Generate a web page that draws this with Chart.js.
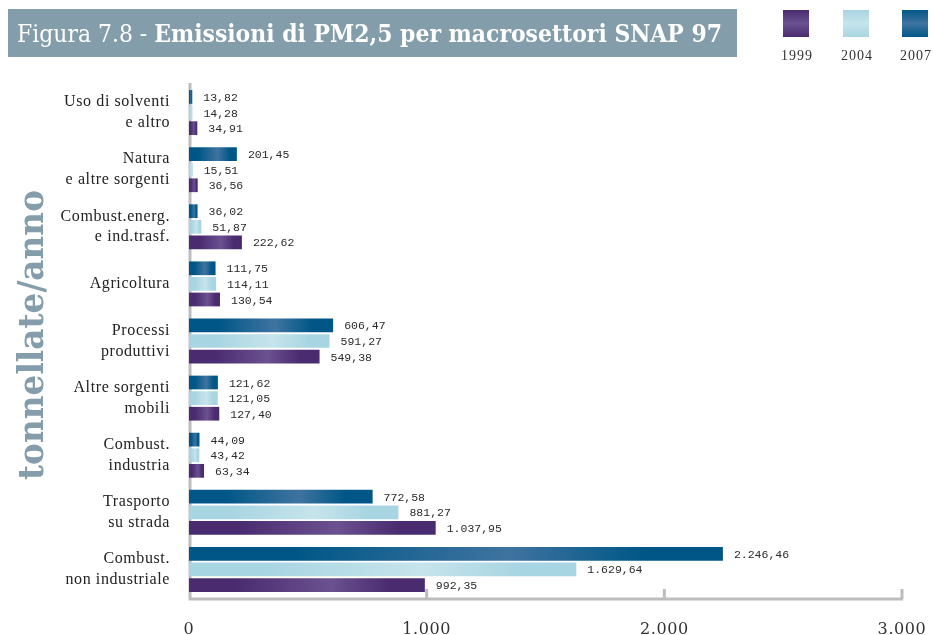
<!DOCTYPE html>
<html>
<head>
<meta charset="utf-8">
<script src="https://cdn.jsdelivr.net/npm/chart.js@4"></script>
<style>
  body { margin: 0; background: #fff; }
  canvas { display: block; }
</style>
</head>
<body>
<canvas id="chart" width="933" height="635"></canvas>
<script>
// categorie dall'alto verso il basso
const categories = [
    ['Uso di solventi', 'e altro'],
    ['Natura', 'e altre sorgenti'],
    ['Combust.energ.', 'e ind.trasf.'],
    'Agricoltura',
    ['Processi', 'produttivi'],
    ['Altre sorgenti', 'mobili'],
    ['Combust.', 'industria'],
    ['Trasporto', 'su strada'],
    ['Combust.', 'non industriale']
];
const values2007 = [13.82, 201.45, 36.02, 111.75, 606.47, 121.62, 44.09, 772.58, 2246.46];
const values2004 = [14.28, 15.51, 51.87, 114.11, 591.27, 121.05, 43.42, 881.27, 1629.64];
const values1999 = [34.91, 36.56, 222.62, 130.54, 549.38, 127.40, 63.34, 1037.95, 992.35];
const legendYears = ['1999', '2004', '2007'];
const xTicks = [0, 1000, 2000, 3000];

const titleLight = 'Figura 7.8 - ';
const titleBold = 'Emissioni di PM2,5 per macrosettori SNAP 97';
const axisTitle = 'tonnellate/anno';

// colori: [scuro, chiaro]
const colors = {
    '2007': ['#005787', '#3f73a0'],
    '2004': ['#a8d5e2', '#c6e4ec'],
    '1999': ['#4a2b70', '#6b5190']
};

function formatIt(v, dec) {
    const parts = v.toFixed(dec).split('.');
    parts[0] = parts[0].replace(/\B(?=(\d{3})+(?!\d))/g, '.');
    return parts.join(',');
}

function barGradient(context, year) {
    const chart = context.chart;
    const c = colors[year];
    if (!chart.chartArea || !chart.scales.x) return c[0];
    const x0 = chart.scales.x.getPixelForValue(0);
    const x1 = chart.scales.x.getPixelForValue(context.raw || 0);
    if (x1 - x0 < 2) return c[0];
    const g = chart.ctx.createLinearGradient(x0, 0, x1, 0);
    g.addColorStop(0, c[0]);
    g.addColorStop(0.2, c[0]);
    g.addColorStop(0.6, c[1]);
    g.addColorStop(0.85, c[0]);
    g.addColorStop(1, c[0]);
    return g;
}

function makeDataset(year, data) {
    return {
        label: year,
        data: data,
        backgroundColor: ctx => barGradient(ctx, year),
        borderWidth: 0,
        categoryPercentage: 0.82,
        barPercentage: 0.88
    };
}

// assi, titolo, legenda ed etichette dei valori
const decorPlugin = {
    id: 'decor',
    beforeDraw(chart) {
        // spaziatura delle lettere per le etichette degli assi
        chart.ctx.letterSpacing = '0.6px';
    },
    beforeDatasetsDraw(chart) {
        const ctx = chart.ctx;
        const area = chart.chartArea;
        const xs = chart.scales.x;
        ctx.save();
        ctx.strokeStyle = '#bdbdbd';
        ctx.lineWidth = 3;
        ctx.beginPath();
        ctx.moveTo(area.left + 1, area.top - 1);
        ctx.lineTo(area.left + 1, area.bottom + 1);
        ctx.lineTo(xs.getPixelForValue(3000) + 1, area.bottom + 1);
        ctx.stroke();
        for (let i = 1; i < xTicks.length; i++) {
            const x = xs.getPixelForValue(xTicks[i]);
            ctx.beginPath();
            ctx.moveTo(x, area.bottom + 1);
            ctx.lineTo(x, area.bottom - 9);
            ctx.stroke();
        }
        ctx.restore();
    },
    afterDatasetsDraw(chart) {
        const ctx = chart.ctx;
        ctx.save();
        ctx.font = '11.5px "Liberation Mono"';
        ctx.fillStyle = '#2a2a2a';
        ctx.textBaseline = 'middle';
        ctx.letterSpacing = '0px';
        chart.data.datasets.forEach((ds, di) => {
            const meta = chart.getDatasetMeta(di);
            meta.data.forEach((bar, i) => {
                ctx.fillText(formatIt(ds.data[i], 2), bar.x + 11, bar.y + 1);
            });
        });
        ctx.restore();
    },
    afterDraw(chart) {
        const ctx = chart.ctx;
        ctx.save();
        ctx.letterSpacing = '0px';
        // banner del titolo
        ctx.fillStyle = '#839eaa';
        ctx.fillRect(8, 9, 729, 48);
        ctx.fillStyle = '#ffffff';
        ctx.textBaseline = 'alphabetic';
        ctx.font = '25px "DejaVu Serif"';
        const w1 = ctx.measureText(titleLight).width;
        ctx.font = 'bold 25px "DejaVu Serif"';
        const w2 = ctx.measureText(titleBold).width;
        const sc = 705 / (w1 + w2);
        ctx.save();
        ctx.translate(17, 42);
        ctx.scale(sc, 1);
        ctx.font = '25px "DejaVu Serif"';
        ctx.fillText(titleLight, 0, 0);
        ctx.font = 'bold 25px "DejaVu Serif"';
        ctx.fillText(titleBold, w1, 0);
        ctx.restore();

        // legenda
        const lx = [783, 843, 902];
        legendYears.forEach((y, i) => {
            const c = colors[y];
            const g = ctx.createLinearGradient(0, 10, 0, 37);
            g.addColorStop(0, c[0]);
            g.addColorStop(0.5, c[1]);
            g.addColorStop(1, c[0]);
            ctx.fillStyle = g;
            ctx.fillRect(lx[i], 10, 26, 27);
            ctx.fillStyle = '#333';
            ctx.font = '14px "Liberation Serif"';
            ctx.textAlign = 'center';
            ctx.letterSpacing = '1px';
            ctx.fillText(y, lx[i] + 14, 60);
            ctx.letterSpacing = '0px';
        });

        // titolo asse verticale
        ctx.save();
        ctx.translate(43, 335);
        ctx.rotate(-Math.PI / 2);
        ctx.font = 'bold 36px "DejaVu Serif"';
        const tw = ctx.measureText(axisTitle).width;
        ctx.scale(290 / tw, 1);
        ctx.fillStyle = '#839eaa';
        ctx.textAlign = 'center';
        ctx.textBaseline = 'alphabetic';
        ctx.fillText(axisTitle, 0, 0);
        ctx.restore();
        ctx.restore();
    }
};

new Chart(document.getElementById('chart'), {
    type: 'bar',
    data: {
        labels: categories,
        datasets: [
            makeDataset('2007', values2007),
            makeDataset('2004', values2004),
            makeDataset('1999', values1999)
        ]
    },
    options: {
        indexAxis: 'y',
        responsive: false,
        animation: false,
        layout: { padding: { top: 84, right: 31, left: 0, bottom: 0 } },
        plugins: {
            legend: { display: false },
            tooltip: { enabled: false }
        },
        scales: {
            x: {
                min: 0,
                max: 3000,
                afterBuildTicks: scale => { scale.ticks = xTicks.map(v => ({ value: v })); },
                afterFit: scale => {
                    scale.height = 37;
                    scale.paddingLeft = 0;
                    scale.paddingRight = 0;
                },
                grid: { display: false },
                border: { display: false },
                ticks: {
                    padding: 14,
                    color: '#333',
                    font: { family: 'DejaVu Serif', size: 16 },
                    maxRotation: 0,
                    callback: v => formatIt(v, 0)
                }
            },
            y: {
                afterFit: scale => { scale.width = 189; },
                grid: { display: false },
                border: { display: false },
                ticks: {
                    padding: 11,
                    color: '#222',
                    font: { family: 'Liberation Serif', size: 16, lineHeight: 1.3 }
                }
            }
        }
    },
    plugins: [decorPlugin]
});
</script>
</body>
</html>
